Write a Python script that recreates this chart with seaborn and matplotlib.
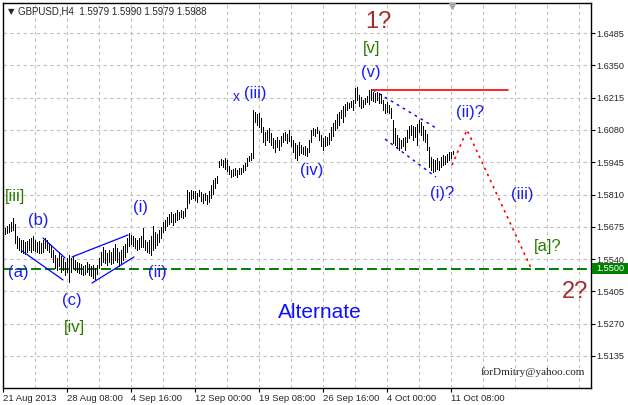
import numpy as np
import pandas as pd
import matplotlib
matplotlib.use("Agg")
import matplotlib.pyplot as plt
import matplotlib.transforms as mtransforms
from matplotlib.patches import Rectangle
import seaborn as sns

# ---------------- DATOS ---------------- #
# GBPUSD H4, barras de 4 horas, maximo y minimo de cada barra
highs = [
    1.5670, 1.5678, 1.5687, 1.5695, 1.5712, 1.5687, 1.5636, 1.5628, 1.5620, 1.5620,
    1.5611, 1.5616, 1.5624, 1.5628, 1.5636, 1.5620, 1.5611, 1.5616, 1.5607, 1.5620,
    1.5628, 1.5620, 1.5607, 1.5599, 1.5578, 1.5557, 1.5545, 1.5570, 1.5553, 1.5545,
    1.5528, 1.5545, 1.5557, 1.5545, 1.5553, 1.5536, 1.5528, 1.5524, 1.5519, 1.5511,
    1.5515, 1.5528, 1.5519, 1.5511, 1.5515, 1.5503, 1.5515, 1.5545, 1.5570, 1.5591,
    1.5578, 1.5565, 1.5578, 1.5570, 1.5586, 1.5603, 1.5586, 1.5570, 1.5578, 1.5595,
    1.5603, 1.5628, 1.5649, 1.5641, 1.5636, 1.5628, 1.5620, 1.5628, 1.5636, 1.5670,
    1.5620, 1.5611, 1.5620, 1.5636, 1.5678, 1.5653, 1.5645, 1.5662, 1.5674, 1.5695,
    1.5703, 1.5716, 1.5729, 1.5737, 1.5729, 1.5733, 1.5745, 1.5737, 1.5745, 1.5741,
    1.5752, 1.5829, 1.5821, 1.5829, 1.5825, 1.5825, 1.5816, 1.5829, 1.5821, 1.5812,
    1.5816, 1.5808, 1.5825, 1.5850, 1.5871, 1.5879, 1.5887, 1.5950, 1.5958, 1.5954,
    1.5963, 1.5954, 1.5929, 1.5912, 1.5917, 1.5921, 1.5912, 1.5921, 1.5921, 1.5933,
    1.5942, 1.5963, 1.5971, 1.5983, 1.6163, 1.6155, 1.6146, 1.6150, 1.6130, 1.6092,
    1.6071, 1.6080, 1.6088, 1.6067, 1.6046, 1.6038, 1.6050, 1.6038, 1.6054, 1.6067,
    1.6071, 1.6063, 1.6080, 1.6054, 1.6038, 1.6025, 1.6017, 1.6029, 1.6017, 1.6008,
    1.6013, 1.6004, 1.6038, 1.6080, 1.6088, 1.6084, 1.6092, 1.6075, 1.6059, 1.6046,
    1.6054, 1.6050, 1.6067, 1.6092, 1.6109, 1.6121, 1.6146, 1.6155, 1.6163, 1.6180,
    1.6188, 1.6197, 1.6192, 1.6201, 1.6205, 1.6255, 1.6259, 1.6226, 1.6218, 1.6205,
    1.6213, 1.6222, 1.6247, 1.6251, 1.6238, 1.6234, 1.6238, 1.6234, 1.6230, 1.6205,
    1.6188, 1.6197, 1.6184, 1.6171, 1.6121, 1.6088, 1.6059, 1.6046, 1.6038, 1.6046,
    1.6050, 1.6080, 1.6096, 1.6100, 1.6096, 1.6092, 1.6104, 1.6121, 1.6113, 1.6096,
    1.6080, 1.6063, 1.6008, 1.5967, 1.5958, 1.5954, 1.5963, 1.5950, 1.5967, 1.5975,
    1.5971, 1.5979, 1.5988, 1.5988, 1.5990,
]
lows = [
    1.5645, 1.5649, 1.5653, 1.5657, 1.5662, 1.5607, 1.5586, 1.5578, 1.5570, 1.5565,
    1.5561, 1.5570, 1.5578, 1.5570, 1.5578, 1.5574, 1.5570, 1.5565, 1.5565, 1.5570,
    1.5586, 1.5578, 1.5570, 1.5549, 1.5528, 1.5503, 1.5494, 1.5511, 1.5486, 1.5494,
    1.5473, 1.5486, 1.5444, 1.5486, 1.5503, 1.5494, 1.5486, 1.5482, 1.5478, 1.5473,
    1.5478, 1.5486, 1.5473, 1.5469, 1.5461, 1.5457, 1.5478, 1.5503, 1.5515, 1.5528,
    1.5524, 1.5515, 1.5528, 1.5519, 1.5524, 1.5536, 1.5528, 1.5511, 1.5524, 1.5536,
    1.5549, 1.5570, 1.5595, 1.5603, 1.5595, 1.5586, 1.5578, 1.5582, 1.5591, 1.5591,
    1.5578, 1.5570, 1.5565, 1.5557, 1.5578, 1.5586, 1.5599, 1.5611, 1.5628, 1.5653,
    1.5662, 1.5678, 1.5687, 1.5695, 1.5682, 1.5695, 1.5703, 1.5708, 1.5716, 1.5712,
    1.5720, 1.5752, 1.5774, 1.5791, 1.5796, 1.5787, 1.5779, 1.5804, 1.5783, 1.5774,
    1.5787, 1.5770, 1.5779, 1.5796, 1.5812, 1.5837, 1.5858, 1.5925, 1.5933, 1.5925,
    1.5917, 1.5908, 1.5896, 1.5883, 1.5887, 1.5891, 1.5883, 1.5896, 1.5896, 1.5904,
    1.5912, 1.5929, 1.5950, 1.5954, 1.5963, 1.6113, 1.6100, 1.6092, 1.6071, 1.6029,
    1.6017, 1.6038, 1.6029, 1.6017, 1.6004, 1.5988, 1.6008, 1.5996, 1.6013, 1.6029,
    1.6038, 1.6025, 1.6034, 1.6013, 1.5988, 1.5963, 1.5954, 1.5975, 1.5983, 1.5979,
    1.5975, 1.5971, 1.5988, 1.6029, 1.6059, 1.6054, 1.6067, 1.6038, 1.6013, 1.5996,
    1.6013, 1.6017, 1.6021, 1.6038, 1.6054, 1.6080, 1.6088, 1.6100, 1.6130, 1.6113,
    1.6138, 1.6163, 1.6171, 1.6176, 1.6163, 1.6192, 1.6205, 1.6180, 1.6171, 1.6176,
    1.6188, 1.6197, 1.6188, 1.6205, 1.6201, 1.6197, 1.6205, 1.6192, 1.6192, 1.6163,
    1.6150, 1.6155, 1.6150, 1.6130, 1.6025, 1.6017, 1.6008, 1.5996, 1.6004, 1.6013,
    1.5996, 1.6029, 1.6046, 1.6059, 1.6038, 1.6050, 1.6017, 1.6071, 1.6059, 1.6038,
    1.6029, 1.5996, 1.5925, 1.5912, 1.5904, 1.5908, 1.5917, 1.5912, 1.5925, 1.5933,
    1.5938, 1.5946, 1.5954, 1.5963, 1.5979,
]

# etiquetas del eje de tiempo (cada 32 barras) y precios del eje derecho
time_labels = ["21 Aug 2013", "28 Aug 08:00", "4 Sep 16:00", "12 Sep 00:00",
               "19 Sep 08:00", "26 Sep 16:00", "4 Oct 00:00", "11 Oct 08:00"]
price_ticks = [1.5135, 1.5270, 1.5405, 1.5540, 1.5675, 1.5810, 1.5945,
               1.6080, 1.6215, 1.6350, 1.6485]
support_level = 1.5500
title_text = "GBPUSD,H4  1.5979 1.5990 1.5979 1.5988"

# lineas dibujadas sobre el grafico (indice de barra, precio)
wedge_abc_low = ([8.5, 29.0], [1.5574, 1.5453])
wedge_abc_high = ([19.0, 30.0], [1.5628, 1.5545])
wedge_i_high = ([33.5, 61.5], [1.5549, 1.5641])
wedge_i_low = ([43.5, 64.5], [1.5440, 1.5549])
channel_high = ([184.0, 215.5], [1.6247, 1.6088])
channel_low = ([190.0, 215.5], [1.6042, 1.5883])
top_level = ([183.5, 251.5], [1.6247, 1.6247])
forecast_bar = [223.5, 231.0, 263.5]
forecast_price = [1.5933, 1.6080, 1.5494]

# etiquetas de ondas: texto, barra, precio, color, tamaño
BLUE = "#1c1cf0"
GREEN = "#2a7a00"
BROWN = "#a52a2a"
wave_labels = [
    ("[iii]", 5.0, 1.5800, GREEN, 12),
    ("(b)", 16.5, 1.5703, BLUE, 12),
    ("(a)", 6.5, 1.5482, BLUE, 12),
    ("(c)", 33.5, 1.5369, BLUE, 12),
    ("[iv]", 34.5, 1.5256, GREEN, 12),
    ("(i)", 68.0, 1.5754, BLUE, 12),
    ("(ii)", 76.0, 1.5486, BLUE, 12),
    ("x", 115.5, 1.6218, BLUE, 10),
    ("(iii)", 125.0, 1.6234, BLUE, 12),
    ("(iv)", 153.5, 1.5912, BLUE, 12),
    ("(v)", 183.0, 1.6318, BLUE, 12),
    ("[v]", 183.5, 1.6422, GREEN, 12),
    ("1?", 186.5, 1.6531, BROWN, 17),
    ("(ii)?", 232.5, 1.6151, BLUE, 12),
    ("(i)?", 218.5, 1.5816, BLUE, 12),
    ("(iii)", 258.5, 1.5808, BLUE, 12),
    ("[a]?", 271.5, 1.5591, GREEN, 12),
    ("2?", 285.0, 1.5402, BROWN, 17),
    ("Alternate", 157.5, 1.5315, "#1010ff", 15),
]

# ---------------- PREPARAR DATOS ---------------- #
bar_idx = np.arange(len(highs))
df = pd.DataFrame({"bar": bar_idx, "high": highs, "low": lows})

# ---------------- GRAFICO ---------------- #
sns.set_style("white")
plt.rcParams["font.family"] = ["Liberation Sans", "DejaVu Sans"]

fig = plt.figure(figsize=(6.28, 4.05), dpi=100)
ax = fig.add_axes([3 / 628, 17 / 405, 588 / 628, 385 / 405])

x_min, x_max = -1, 293
ax.set_xlim(x_min, x_max)
ax.set_ylim(1.50012, 1.66105)

# rejilla punteada
grid_x = np.arange(x_min + 16, x_max, 16)
for gx in grid_x:
    ax.axvline(gx, color="#c0c0c0", lw=0.8, ls=(0, (3, 3)), zorder=0)
for gy in price_ticks:
    ax.axhline(gy, color="#c0c0c0", lw=0.8, ls=(0, (3, 3)), zorder=0)

# barras (linea de minimo a maximo)
ax.vlines(df["bar"], df["low"], df["high"], color="black", lw=0.7,
          antialiased=False, zorder=3)

# nivel de soporte
ax.axhline(support_level, color="#008000", lw=1.4, ls=(0, (5.1, 2.1)), zorder=2)

# cuñas y canal
for xs, ys in [wedge_abc_low, wedge_abc_high, wedge_i_high, wedge_i_low]:
    ax.plot(xs, ys, color="blue", lw=0.9, zorder=4)
for xs, ys in [channel_high, channel_low]:
    ax.plot(xs, ys, color="blue", lw=1.0, ls=(0, (2, 3)), zorder=4)
ax.plot(top_level[0], top_level[1], color="red", lw=1.2, zorder=4)
sns.lineplot(x=forecast_bar, y=forecast_price, color="red", lw=1.2,
             ls=(0, (1.5, 2.5)), sort=False, ax=ax, zorder=4)

# etiquetas de ondas
for txt, bx, py, col, fs in wave_labels:
    ax.text(bx, py, txt, color=col, fontsize=fs, ha="center", va="center", zorder=5)

# marca de desplazamiento del grafico
ax.plot([bar_idx[-1] - 0.5], [1.6596], marker="v", color="#a8a8a8", ms=5,
        clip_on=False, zorder=6)

# titulo y firma
ax.text(0.009, 0.978, "▼", transform=ax.transAxes, fontsize=6, va="center",
        ha="left", family=["DejaVu Sans"])
ax.text(0.026, 0.978, title_text, transform=ax.transAxes, fontsize=7,
        va="center", ha="left")
ax.text(0.990, 0.042, "forDmitry@yahoo.com", transform=ax.transAxes,
        fontsize=8, va="center", ha="right", family=["Liberation Serif"])

# ejes
ax.set_xticks(np.arange(x_min, x_max, 32)[:len(time_labels)])
ax.set_xticklabels(time_labels, ha="left", fontsize=6.8)
ax.yaxis.tick_right()
ax.set_yticks(price_ticks)
ax.set_yticklabels([f"{p:.4f}" for p in price_ticks], fontsize=6.6)
ax.tick_params(axis="both", direction="out", length=3, width=0.8, color="black",
               pad=1, bottom=True, right=True)
ax.set_xlabel("")
ax.set_ylabel("")
for sp in ax.spines.values():
    sp.set_color("black")
    sp.set_linewidth(1.0)

# etiqueta del nivel 1.5500 (caja verde fuera del area del grafico)
blend = mtransforms.blended_transform_factory(ax.transAxes, ax.transData)
box_h = 0.0024
ax.add_patch(Rectangle((1.0017, support_level - box_h), 0.062, 2 * box_h,
                       transform=blend, fc="#008000", ec="none",
                       clip_on=False, zorder=6))
ax.text(1.0085, support_level, f"{support_level:.4f}", transform=blend,
        fontsize=6.6, color="white", va="center", ha="left", zorder=7)

fig.savefig("out.png", dpi=100)
